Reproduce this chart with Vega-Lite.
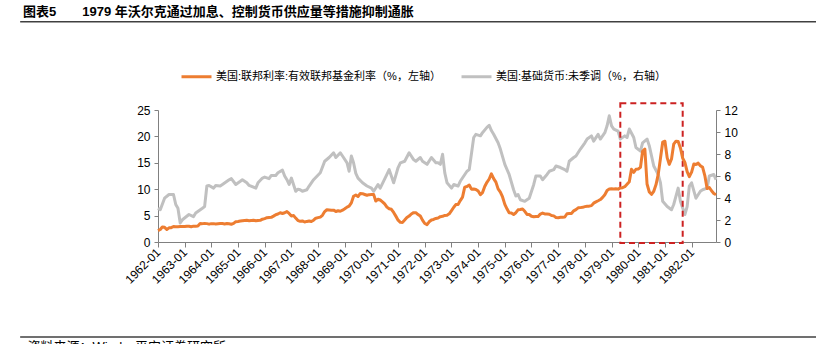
{
"$schema":"https://vega.github.io/schema/vega-lite/v6.json",
"width":558,"height":132,
"autosize":{"type":"none"},
"padding":{"left":158,"top":110,"right":100,"bottom":102},
"background":"white",
"config":{"font":"Liberation Sans, Noto Sans CJK SC","view":{"stroke":null},"axis":{"grid":false},
"axisLeft":{"values":[0,5,10,15,20,25],"domainColor":"#808080","tickColor":"#808080","tickSize":4,"labelFontSize":12,"labelColor":"#000000","labelPadding":4,"labelOverlap":false,"title":null},
"axisRight":{"values":[0,2,4,6,8,10,12],"domainColor":"#808080","tickColor":"#808080","tickSize":4,"labelFontSize":12,"labelColor":"#000000","labelPadding":4,"labelOverlap":false,"title":null}},
"title":{"text":"图表5\u3000\u30001979 年沃尔克通过加息、控制货币供应量等措施抑制通胀","anchor":"start","frame":"group","fontSize":13,"fontWeight":"bold","color":"#000000","dx":-135,"offset":2},
"datasets":{
"ffr":[
{"d":"1962-01-01","v":2.15},{"d":"1962-02-01","v":2.37},{"d":"1962-03-01","v":2.85},{"d":"1962-04-01","v":2.78},{"d":"1962-05-01","v":2.36},{"d":"1962-06-01","v":2.68},{"d":"1962-07-01","v":2.71},{"d":"1962-08-01","v":2.93},{"d":"1962-09-01","v":2.90},{"d":"1962-10-01","v":2.90},{"d":"1962-11-01","v":2.94},{"d":"1962-12-01","v":2.93},
{"d":"1963-01-01","v":2.92},{"d":"1963-02-01","v":3.00},{"d":"1963-03-01","v":2.98},{"d":"1963-04-01","v":2.90},{"d":"1963-05-01","v":3.00},{"d":"1963-06-01","v":2.99},{"d":"1963-07-01","v":3.02},{"d":"1963-08-01","v":3.49},{"d":"1963-09-01","v":3.48},{"d":"1963-10-01","v":3.50},{"d":"1963-11-01","v":3.48},{"d":"1963-12-01","v":3.38},
{"d":"1964-01-01","v":3.48},{"d":"1964-02-01","v":3.48},{"d":"1964-03-01","v":3.43},{"d":"1964-04-01","v":3.47},{"d":"1964-05-01","v":3.50},{"d":"1964-06-01","v":3.50},{"d":"1964-07-01","v":3.42},{"d":"1964-08-01","v":3.50},{"d":"1964-09-01","v":3.45},{"d":"1964-10-01","v":3.36},{"d":"1964-11-01","v":3.52},{"d":"1964-12-01","v":3.85},
{"d":"1965-01-01","v":3.90},{"d":"1965-02-01","v":3.98},{"d":"1965-03-01","v":4.04},{"d":"1965-04-01","v":4.09},{"d":"1965-05-01","v":4.10},{"d":"1965-06-01","v":4.04},{"d":"1965-07-01","v":4.09},{"d":"1965-08-01","v":4.12},{"d":"1965-09-01","v":4.01},{"d":"1965-10-01","v":4.08},{"d":"1965-11-01","v":4.10},{"d":"1965-12-01","v":4.32},
{"d":"1966-01-01","v":4.42},{"d":"1966-02-01","v":4.60},{"d":"1966-03-01","v":4.65},{"d":"1966-04-01","v":4.67},{"d":"1966-05-01","v":4.90},{"d":"1966-06-01","v":5.17},{"d":"1966-07-01","v":5.30},{"d":"1966-08-01","v":5.53},{"d":"1966-09-01","v":5.40},{"d":"1966-10-01","v":5.53},{"d":"1966-11-01","v":5.76},{"d":"1966-12-01","v":5.40},
{"d":"1967-01-01","v":4.94},{"d":"1967-02-01","v":5.00},{"d":"1967-03-01","v":4.53},{"d":"1967-04-01","v":4.05},{"d":"1967-05-01","v":3.94},{"d":"1967-06-01","v":3.98},{"d":"1967-07-01","v":3.79},{"d":"1967-08-01","v":3.90},{"d":"1967-09-01","v":3.99},{"d":"1967-10-01","v":3.88},{"d":"1967-11-01","v":4.13},{"d":"1967-12-01","v":4.51},
{"d":"1968-01-01","v":4.61},{"d":"1968-02-01","v":4.71},{"d":"1968-03-01","v":5.05},{"d":"1968-04-01","v":5.76},{"d":"1968-05-01","v":6.11},{"d":"1968-06-01","v":6.07},{"d":"1968-07-01","v":6.02},{"d":"1968-08-01","v":6.03},{"d":"1968-09-01","v":5.78},{"d":"1968-10-01","v":5.91},{"d":"1968-11-01","v":5.82},{"d":"1968-12-01","v":6.02},
{"d":"1969-01-01","v":6.30},{"d":"1969-02-01","v":6.61},{"d":"1969-03-01","v":6.79},{"d":"1969-04-01","v":7.41},{"d":"1969-05-01","v":8.67},{"d":"1969-06-01","v":8.90},{"d":"1969-07-01","v":8.61},{"d":"1969-08-01","v":9.19},{"d":"1969-09-01","v":9.15},{"d":"1969-10-01","v":9.00},{"d":"1969-11-01","v":8.85},{"d":"1969-12-01","v":8.97},
{"d":"1970-01-01","v":8.98},{"d":"1970-02-01","v":8.98},{"d":"1970-03-01","v":7.76},{"d":"1970-04-01","v":8.10},{"d":"1970-05-01","v":7.95},{"d":"1970-06-01","v":7.61},{"d":"1970-07-01","v":7.21},{"d":"1970-08-01","v":6.61},{"d":"1970-09-01","v":6.29},{"d":"1970-10-01","v":6.20},{"d":"1970-11-01","v":5.60},{"d":"1970-12-01","v":4.90},
{"d":"1971-01-01","v":4.14},{"d":"1971-02-01","v":3.72},{"d":"1971-03-01","v":3.71},{"d":"1971-04-01","v":4.16},{"d":"1971-05-01","v":4.63},{"d":"1971-06-01","v":4.91},{"d":"1971-07-01","v":5.31},{"d":"1971-08-01","v":5.56},{"d":"1971-09-01","v":5.55},{"d":"1971-10-01","v":5.20},{"d":"1971-11-01","v":4.91},{"d":"1971-12-01","v":4.14},
{"d":"1972-01-01","v":3.50},{"d":"1972-02-01","v":3.29},{"d":"1972-03-01","v":3.83},{"d":"1972-04-01","v":4.17},{"d":"1972-05-01","v":4.27},{"d":"1972-06-01","v":4.46},{"d":"1972-07-01","v":4.55},{"d":"1972-08-01","v":4.80},{"d":"1972-09-01","v":4.87},{"d":"1972-10-01","v":5.04},{"d":"1972-11-01","v":5.06},{"d":"1972-12-01","v":5.33},
{"d":"1973-01-01","v":5.94},{"d":"1973-02-01","v":6.58},{"d":"1973-03-01","v":7.09},{"d":"1973-04-01","v":7.12},{"d":"1973-05-01","v":7.84},{"d":"1973-06-01","v":8.49},{"d":"1973-07-01","v":10.40},{"d":"1973-08-01","v":10.50},{"d":"1973-09-01","v":10.78},{"d":"1973-10-01","v":10.01},{"d":"1973-11-01","v":10.03},{"d":"1973-12-01","v":9.95},
{"d":"1974-01-01","v":9.65},{"d":"1974-02-01","v":8.97},{"d":"1974-03-01","v":9.35},{"d":"1974-04-01","v":10.51},{"d":"1974-05-01","v":11.31},{"d":"1974-06-01","v":11.93},{"d":"1974-07-01","v":12.92},{"d":"1974-08-01","v":12.01},{"d":"1974-09-01","v":11.34},{"d":"1974-10-01","v":10.06},{"d":"1974-11-01","v":9.45},{"d":"1974-12-01","v":8.53},
{"d":"1975-01-01","v":7.13},{"d":"1975-02-01","v":6.24},{"d":"1975-03-01","v":5.54},{"d":"1975-04-01","v":5.49},{"d":"1975-05-01","v":5.22},{"d":"1975-06-01","v":5.55},{"d":"1975-07-01","v":6.10},{"d":"1975-08-01","v":6.14},{"d":"1975-09-01","v":6.24},{"d":"1975-10-01","v":5.82},{"d":"1975-11-01","v":5.22},{"d":"1975-12-01","v":5.20},
{"d":"1976-01-01","v":4.87},{"d":"1976-02-01","v":4.77},{"d":"1976-03-01","v":4.84},{"d":"1976-04-01","v":4.82},{"d":"1976-05-01","v":5.29},{"d":"1976-06-01","v":5.48},{"d":"1976-07-01","v":5.31},{"d":"1976-08-01","v":5.29},{"d":"1976-09-01","v":5.25},{"d":"1976-10-01","v":5.02},{"d":"1976-11-01","v":4.95},{"d":"1976-12-01","v":4.65},
{"d":"1977-01-01","v":4.61},{"d":"1977-02-01","v":4.68},{"d":"1977-03-01","v":4.69},{"d":"1977-04-01","v":4.73},{"d":"1977-05-01","v":5.35},{"d":"1977-06-01","v":5.39},{"d":"1977-07-01","v":5.42},{"d":"1977-08-01","v":5.90},{"d":"1977-09-01","v":6.14},{"d":"1977-10-01","v":6.47},{"d":"1977-11-01","v":6.51},{"d":"1977-12-01","v":6.56},
{"d":"1978-01-01","v":6.70},{"d":"1978-02-01","v":6.78},{"d":"1978-03-01","v":6.79},{"d":"1978-04-01","v":6.89},{"d":"1978-05-01","v":7.36},{"d":"1978-06-01","v":7.60},{"d":"1978-07-01","v":7.81},{"d":"1978-08-01","v":8.04},{"d":"1978-09-01","v":8.45},{"d":"1978-10-01","v":8.96},{"d":"1978-11-01","v":9.76},{"d":"1978-12-01","v":10.03},
{"d":"1979-01-01","v":10.07},{"d":"1979-02-01","v":10.06},{"d":"1979-03-01","v":10.09},{"d":"1979-04-01","v":10.01},{"d":"1979-05-01","v":10.24},{"d":"1979-06-01","v":10.29},{"d":"1979-07-01","v":10.47},{"d":"1979-08-01","v":10.94},{"d":"1979-09-01","v":11.43},{"d":"1979-10-01","v":13.77},{"d":"1979-11-01","v":13.18},{"d":"1979-12-01","v":13.78},
{"d":"1980-01-01","v":13.82},{"d":"1980-02-01","v":14.13},{"d":"1980-03-01","v":17.19},{"d":"1980-04-01","v":17.61},{"d":"1980-05-01","v":10.98},{"d":"1980-06-01","v":9.47},{"d":"1980-07-01","v":9.03},{"d":"1980-08-01","v":9.61},{"d":"1980-09-01","v":10.87},{"d":"1980-10-01","v":12.81},{"d":"1980-11-01","v":15.85},{"d":"1980-12-01","v":18.90},
{"d":"1981-01-01","v":19.08},{"d":"1981-02-01","v":15.93},{"d":"1981-03-01","v":14.70},{"d":"1981-04-01","v":15.72},{"d":"1981-05-01","v":18.52},{"d":"1981-06-01","v":19.10},{"d":"1981-07-01","v":19.04},{"d":"1981-08-01","v":17.82},{"d":"1981-09-01","v":15.87},{"d":"1981-10-01","v":15.08},{"d":"1981-11-01","v":13.31},{"d":"1981-12-01","v":12.37},
{"d":"1982-01-01","v":13.22},{"d":"1982-02-01","v":14.78},{"d":"1982-03-01","v":14.68},{"d":"1982-04-01","v":14.94},{"d":"1982-05-01","v":14.45},{"d":"1982-06-01","v":14.15},{"d":"1982-07-01","v":12.59},{"d":"1982-08-01","v":10.12},{"d":"1982-09-01","v":10.31},{"d":"1982-10-01","v":9.71},{"d":"1982-11-01","v":9.20},{"d":"1982-12-01","v":8.95}
],
"mb":[
{"d":"1962-01-01","v":3.07},{"d":"1962-02-01","v":2.93},{"d":"1962-04-01","v":3.98},{"d":"1962-06-01","v":4.32},{"d":"1962-08-01","v":4.32},{"d":"1962-09-01","v":3.41},{"d":"1962-10-01","v":3.07},{"d":"1962-11-01","v":1.73},{"d":"1962-12-01","v":2.02},
{"d":"1963-03-01","v":2.50},{"d":"1963-05-01","v":2.30},{"d":"1963-06-01","v":2.64},{"d":"1963-09-01","v":3.07},{"d":"1963-10-01","v":3.22},{"d":"1963-11-01","v":5.09},{"d":"1963-12-01","v":5.14},
{"d":"1964-02-01","v":4.90},{"d":"1964-03-01","v":5.14},{"d":"1964-05-01","v":5.09},{"d":"1964-06-01","v":5.23},{"d":"1964-09-01","v":5.66},{"d":"1964-10-01","v":5.76},{"d":"1964-12-01","v":5.23},
{"d":"1965-02-01","v":5.52},{"d":"1965-03-01","v":5.66},{"d":"1965-05-01","v":5.38},{"d":"1965-06-01","v":5.14},{"d":"1965-09-01","v":4.90},{"d":"1965-10-01","v":5.38},{"d":"1965-12-01","v":5.81},
{"d":"1966-01-01","v":5.90},{"d":"1966-03-01","v":5.76},{"d":"1966-04-01","v":6.05},{"d":"1966-06-01","v":6.05},{"d":"1966-07-01","v":6.29},{"d":"1966-09-01","v":6.53},{"d":"1966-10-01","v":6.00},{"d":"1966-11-01","v":5.66},{"d":"1966-12-01","v":5.23},
{"d":"1967-01-01","v":5.81},{"d":"1967-03-01","v":4.61},{"d":"1967-04-01","v":4.80},{"d":"1967-05-01","v":4.75},{"d":"1967-06-01","v":4.61},{"d":"1967-08-01","v":4.75},{"d":"1967-09-01","v":5.09},{"d":"1967-11-01","v":5.66},
{"d":"1968-02-01","v":6.29},{"d":"1968-04-01","v":7.34},{"d":"1968-06-01","v":7.68},{"d":"1968-08-01","v":8.11},{"d":"1968-09-01","v":7.68},{"d":"1968-11-01","v":8.11},{"d":"1968-12-01","v":7.82},
{"d":"1969-02-01","v":7.20},{"d":"1969-03-01","v":6.43},{"d":"1969-04-01","v":7.82},{"d":"1969-05-01","v":7.20},{"d":"1969-06-01","v":6.24},{"d":"1969-07-01","v":5.81},{"d":"1969-09-01","v":5.38},{"d":"1969-11-01","v":5.09},
{"d":"1970-01-01","v":4.90},{"d":"1970-02-01","v":4.61},{"d":"1970-04-01","v":5.23},{"d":"1970-05-01","v":4.90},{"d":"1970-08-01","v":6.14},{"d":"1970-09-01","v":6.58},{"d":"1970-11-01","v":5.38},
{"d":"1971-01-01","v":6.77},{"d":"1971-02-01","v":7.20},{"d":"1971-04-01","v":7.34},{"d":"1971-06-01","v":8.11},{"d":"1971-08-01","v":7.49},{"d":"1971-09-01","v":7.34},{"d":"1971-11-01","v":7.68},{"d":"1971-12-01","v":7.34},
{"d":"1972-02-01","v":7.06},{"d":"1972-04-01","v":7.68},{"d":"1972-06-01","v":7.20},{"d":"1972-07-01","v":7.20},{"d":"1972-08-01","v":7.06},{"d":"1972-09-01","v":7.97},{"d":"1972-10-01","v":6.29},{"d":"1972-11-01","v":5.38},
{"d":"1973-01-01","v":4.90},{"d":"1973-02-01","v":5.23},{"d":"1973-04-01","v":5.09},{"d":"1973-05-01","v":5.52},{"d":"1973-08-01","v":6.43},{"d":"1973-09-01","v":6.58},{"d":"1973-11-01","v":9.50},{"d":"1973-12-01","v":9.79},
{"d":"1974-02-01","v":9.65},{"d":"1974-03-01","v":9.94},{"d":"1974-05-01","v":10.42},{"d":"1974-06-01","v":10.61},{"d":"1974-07-01","v":10.13},{"d":"1974-08-01","v":9.79},{"d":"1974-10-01","v":9.02},{"d":"1974-11-01","v":8.45},
{"d":"1975-01-01","v":7.06},{"d":"1975-03-01","v":6.14},{"d":"1975-05-01","v":4.75},{"d":"1975-06-01","v":4.18},{"d":"1975-07-01","v":4.32},{"d":"1975-08-01","v":3.84},{"d":"1975-10-01","v":3.70},{"d":"1975-12-01","v":3.98},
{"d":"1976-02-01","v":5.23},{"d":"1976-03-01","v":6.00},{"d":"1976-05-01","v":6.00},{"d":"1976-06-01","v":5.66},{"d":"1976-08-01","v":6.14},{"d":"1976-09-01","v":6.43},{"d":"1976-11-01","v":6.58},{"d":"1976-12-01","v":6.91},
{"d":"1977-02-01","v":6.77},{"d":"1977-04-01","v":6.58},{"d":"1977-05-01","v":6.43},{"d":"1977-06-01","v":7.34},{"d":"1977-08-01","v":7.68},{"d":"1977-09-01","v":7.82},{"d":"1977-11-01","v":8.45},
{"d":"1978-01-01","v":9.02},{"d":"1978-02-01","v":9.36},{"d":"1978-04-01","v":9.65},{"d":"1978-05-01","v":9.17},{"d":"1978-07-01","v":9.79},{"d":"1978-08-01","v":9.36},{"d":"1978-10-01","v":9.94},{"d":"1978-11-01","v":10.56},{"d":"1978-12-01","v":11.47},
{"d":"1979-01-01","v":10.56},{"d":"1979-02-01","v":10.27},{"d":"1979-04-01","v":10.08},{"d":"1979-05-01","v":9.36},{"d":"1979-07-01","v":9.65},{"d":"1979-08-01","v":9.50},{"d":"1979-09-01","v":10.27},{"d":"1979-11-01","v":9.50},{"d":"1979-12-01","v":8.59},
{"d":"1980-02-01","v":8.26},{"d":"1980-03-01","v":9.02},{"d":"1980-05-01","v":9.36},{"d":"1980-06-01","v":8.74},{"d":"1980-08-01","v":6.91},{"d":"1980-10-01","v":6.14},{"d":"1980-11-01","v":5.38},{"d":"1980-12-01","v":3.70},
{"d":"1981-02-01","v":3.22},{"d":"1981-04-01","v":2.93},{"d":"1981-05-01","v":3.41},{"d":"1981-07-01","v":4.90},{"d":"1981-08-01","v":3.70},{"d":"1981-10-01","v":2.50},{"d":"1981-11-01","v":3.22},{"d":"1981-12-01","v":5.09},
{"d":"1982-01-01","v":5.38},{"d":"1982-03-01","v":3.98},{"d":"1982-05-01","v":4.61},{"d":"1982-06-01","v":4.75},{"d":"1982-08-01","v":4.90},{"d":"1982-09-01","v":6.00},{"d":"1982-11-01","v":6.14},{"d":"1982-12-01","v":5.66}
]
},
"layer":[
{
"data":{"name":"mb"},
"mark":{"type":"line","strokeWidth":3,"strokeJoin":"round"},
"encoding":{
"x":{"field":"d","type":"temporal","scale":{"type":"utc","domain":[{"year":1962,"month":1,"date":1,"utc":true},{"year":1982,"month":12,"date":1,"utc":true}],"nice":false},
"axis":{"format":"%Y-%m","labelAngle":-45,"labelAlign":"right","labelBaseline":"middle","tickCount":{"interval":"year","step":1},"domainColor":"#808080","tickColor":"#808080","tickSize":5,"labelFontSize":12,"labelColor":"#000000","labelPadding":3,"labelOverlap":false,"labelBound":false,"labelFlush":false,"title":"资料来源：Wind，平安证券研究所","titleX":-131,"titleY":98,"titleAnchor":"start","titleAlign":"left","titleBaseline":"top","titleFontSize":13,"titleFontWeight":"normal","titleColor":"#000000"}},
"y":{"field":"v","type":"quantitative","scale":{"domain":[0,12],"nice":false},"axis":{"orient":"right","values":[0,2,4,6,8,10,12],"title":null}},
"color":{"datum":"美国:基础货币:未季调（%，右轴）","type":"nominal","scale":{"domain":["美国:联邦利率:有效联邦基金利率（%，左轴）","美国:基础货币:未季调（%，右轴）"],"range":["#ED7D31","#C0C0C0"]},
"legend":{"orient":"none","legendX":22,"legendY":-50,"direction":"horizontal","title":null,"symbolType":"stroke","symbolSize":900,"symbolStrokeWidth":3,"labelFontSize":11,"labelLimit":0,"labelColor":"#000000","columnPadding":14,"labelOffset":3}}
}
},
{
"layer":[
{
"data":{"values":[{}]},
"mark":{"type":"rule","color":"#404040","strokeWidth":1.5},
"encoding":{
"x":{"datum":{"year":1956,"month":11,"date":1,"utc":true},"type":"temporal"},
"x2":{"datum":{"year":1986,"month":9,"date":1,"utc":true}},
"y":{"datum":41.7,"type":"quantitative","axis":{"orient":"left","values":[0,5,10,15,20,25],"title":null}}
}
},
{
"data":{"values":[{}]},
"mark":{"type":"rule","color":"#404040","strokeWidth":1.5},
"encoding":{
"x":{"datum":{"year":1956,"month":11,"date":1,"utc":true},"type":"temporal"},
"x2":{"datum":{"year":1986,"month":9,"date":1,"utc":true}},
"y":{"datum":-18.0,"type":"quantitative","axis":{"orient":"left","values":[0,5,10,15,20,25],"title":null}}
}
},
{
"data":{"values":[{}]},
"mark":{"type":"rect","fillOpacity":0,"stroke":"#CC2222","strokeWidth":2,"strokeDash":[6,4]},
"encoding":{
"x":{"datum":{"year":1979,"month":5,"date":1,"utc":true},"type":"temporal"},
"x2":{"datum":{"year":1981,"month":9,"date":1,"utc":true}},
"y":{"datum":26.3,"type":"quantitative","axis":{"orient":"left","values":[0,5,10,15,20,25],"title":null}},
"y2":{"datum":-0.2}
}
},
{
"data":{"name":"ffr"},
"mark":{"type":"line","strokeWidth":3,"strokeJoin":"round"},
"encoding":{
"x":{"field":"d","type":"temporal","scale":{"type":"utc","domain":[{"year":1962,"month":1,"date":1,"utc":true},{"year":1982,"month":12,"date":1,"utc":true}],"nice":false},
"axis":{"format":"%Y-%m","labelAngle":-45,"labelAlign":"right","labelBaseline":"middle","tickCount":{"interval":"year","step":1},"domainColor":"#808080","tickColor":"#808080","tickSize":5,"labelFontSize":12,"labelColor":"#000000","labelPadding":3,"labelOverlap":false,"labelBound":false,"labelFlush":false,"title":"资料来源：Wind，平安证券研究所","titleX":-131,"titleY":98,"titleAnchor":"start","titleAlign":"left","titleBaseline":"top","titleFontSize":13,"titleFontWeight":"normal","titleColor":"#000000"}},
"y":{"field":"v","type":"quantitative","scale":{"domain":[0,25],"nice":false},"axis":{"orient":"left","values":[0,5,10,15,20,25],"title":null}},
"color":{"datum":"美国:联邦利率:有效联邦基金利率（%，左轴）","type":"nominal","scale":{"domain":["美国:联邦利率:有效联邦基金利率（%，左轴）","美国:基础货币:未季调（%，右轴）"],"range":["#ED7D31","#C0C0C0"]},
"legend":{"orient":"none","legendX":22,"legendY":-50,"direction":"horizontal","title":null,"symbolType":"stroke","symbolSize":900,"symbolStrokeWidth":3,"labelFontSize":11,"labelLimit":0,"labelColor":"#000000","columnPadding":14,"labelOffset":3}}
}
}
]
}
],
"resolve":{"scale":{"y":"independent"}}
}
